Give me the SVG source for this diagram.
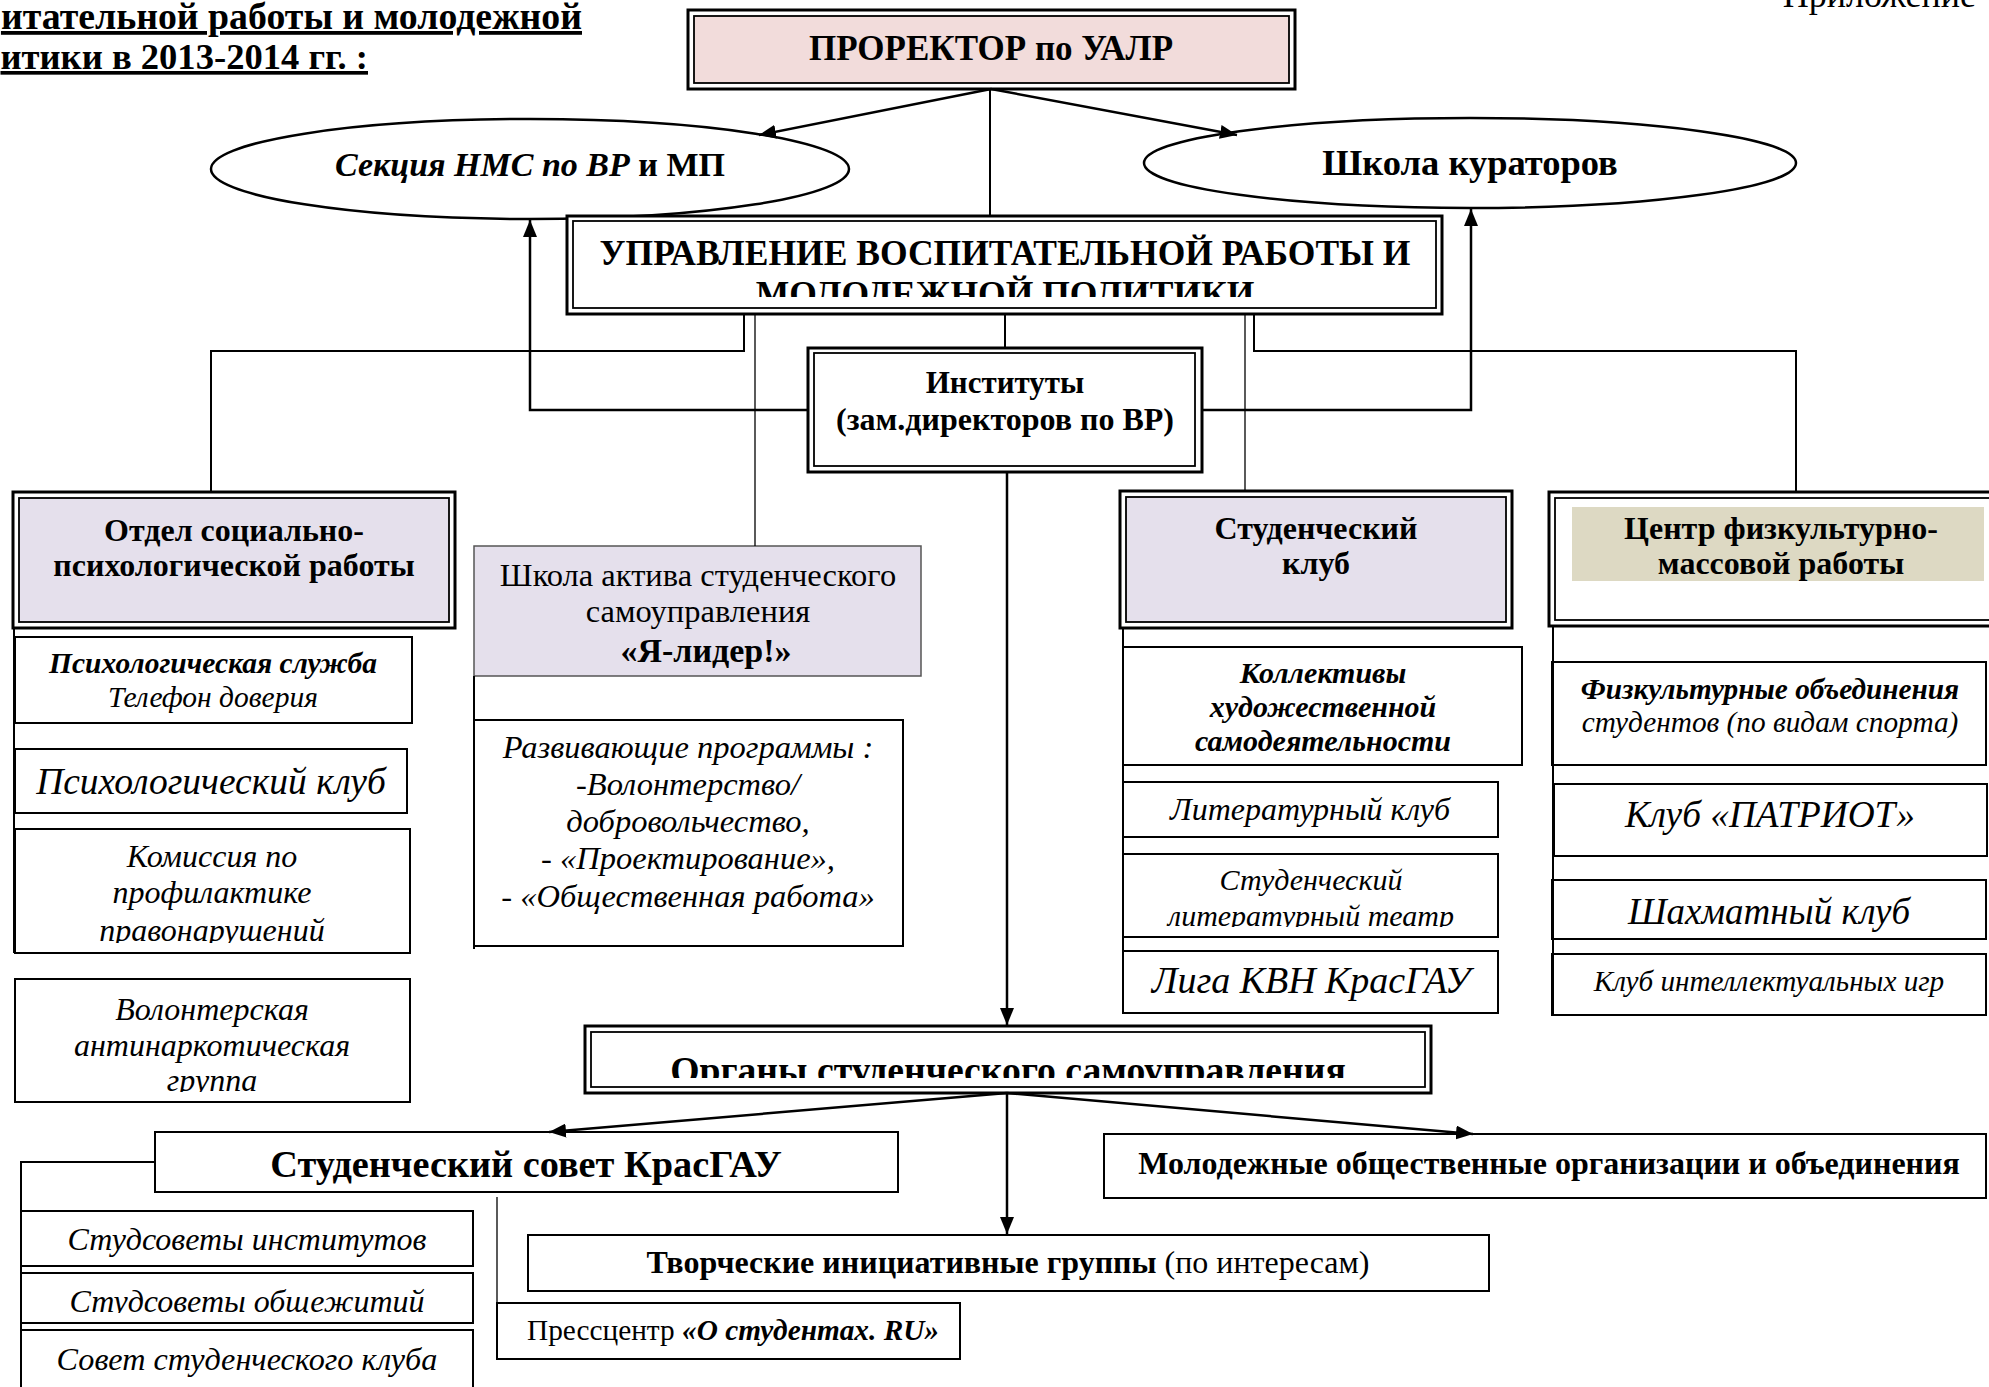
<svg xmlns="http://www.w3.org/2000/svg" width="1989" height="1387" viewBox="0 0 1989 1387">
<style>
text{font-family:"Liberation Serif","Times New Roman",serif;fill:#000}
.c{text-anchor:middle}
.b{font-weight:bold}
.i{font-style:italic}
.n{font-weight:normal;font-style:normal}
.box{fill:#fff;stroke:#000;stroke-width:2}
.out{fill:#fff;stroke:#000;stroke-width:3}
.inn{fill:none;stroke:#000;stroke-width:1.8}
.lav{fill:#e5e0ec}
.ln{fill:none;stroke:#000;stroke-width:2}
.thin{fill:none;stroke:#000;stroke-width:1.3}
.arr{fill:none;stroke:#000;stroke-width:2.5;marker-end:url(#ah)}
.ell{fill:#fff;stroke:#000;stroke-width:2.5}
</style>
<defs>
<marker id="ah" markerUnits="userSpaceOnUse" markerWidth="18" markerHeight="14" refX="17" refY="7" orient="auto"><path d="M0,0 L17,7 L0,14 z" fill="#000"/></marker>
<clipPath id="cUpr"><rect x="573" y="221" width="863" height="76"/></clipPath>
<clipPath id="cKom"><rect x="15" y="829" width="395" height="114"/></clipPath>
<clipPath id="cVol"><rect x="15" y="979" width="395" height="113"/></clipPath>
<clipPath id="cTeatr"><rect x="1123" y="854" width="375" height="73"/></clipPath>
<clipPath id="cOrg"><rect x="591" y="1032" width="834" height="46"/></clipPath>
<clipPath id="cObsh"><rect x="21" y="1273" width="452" height="40"/></clipPath>
</defs>

<g id="title">
<text x="582" y="29" font-size="37.8" class="b" text-anchor="end" text-decoration="underline">итательной работы и молодежной</text>
<text x="368" y="69" font-size="36.6" class="b" text-anchor="end" text-decoration="underline">итики в 2013-2014 гг. :</text>
<text x="1976" y="7" font-size="36" text-anchor="end">Приложение</text>
</g>

<g id="prorektor">
<rect class="out" x="688" y="10" width="607" height="79"/>
<rect x="694" y="16" width="595" height="67" fill="#f2dcdb" stroke="#000" stroke-width="1.8"/>
<text x="991" y="60" font-size="35" class="c b">ПРОРЕКТОР по УАЛР</text>
</g>

<g id="sekciya">
<ellipse class="ell" cx="530" cy="169" rx="319" ry="50"/>
<text x="530" y="176" font-size="34" class="c b"><tspan class="i">Секция НМС по ВР</tspan> и МП</text>
</g>

<g id="shkola-kuratorov">
<ellipse class="ell" cx="1470" cy="163" rx="326" ry="45"/>
<text x="1470" y="175" font-size="36.5" class="c b">Школа кураторов</text>
</g>

<g id="upravlenie">
<rect class="out" x="567" y="216" width="875" height="98"/>
<rect class="inn" x="573" y="221" width="863" height="87"/>
<g clip-path="url(#cUpr)">
<text x="1005" y="265" font-size="35.5" class="c b">УПРАВЛЕНИЕ ВОСПИТАТЕЛЬНОЙ РАБОТЫ И</text>
<text x="1005" y="306" font-size="35.5" class="c b">МОЛОДЕЖНОЙ ПОЛИТИКИ</text>
</g>
</g>

<g id="instituty">
<rect class="out" x="808" y="348" width="394" height="124"/>
<rect class="inn" x="814" y="353" width="381" height="113"/>
<text x="1005" y="393" font-size="31" class="c b">Институты</text>
<text x="1005" y="430" font-size="32" class="c b">(зам.директоров по ВР)</text>
</g>

<g id="otdel">
<rect class="out" x="13" y="492" width="442" height="136"/>
<rect class="inn lav" x="19" y="498" width="430" height="124"/>
<text x="234" y="541" font-size="32" class="c b">Отдел социально-</text>
<text x="234" y="576" font-size="32" class="c b">психологической работы</text>
</g>

<g id="shkola-aktiva">
<rect x="474" y="546" width="447" height="130" fill="#e5e0ec" stroke="#555" stroke-width="1.5"/>
<text x="698" y="586" font-size="32.5" class="c">Школа актива студенческого</text>
<text x="698" y="622" font-size="32.5" class="c">самоуправления</text>
<text x="706" y="662" font-size="34" class="c b">«Я-лидер!»</text>
</g>

<g id="studklub">
<rect class="out" x="1120" y="491" width="392" height="137"/>
<rect class="inn lav" x="1126" y="497" width="380" height="125"/>
<text x="1316" y="539" font-size="32" class="c b">Студенческий</text>
<text x="1316" y="574" font-size="32" class="c b">клуб</text>
</g>

<g id="centr">
<rect class="out" x="1549" y="492" width="460" height="134"/>
<rect class="inn" x="1555" y="498" width="448" height="122"/>
<rect x="1572" y="507" width="412" height="74" fill="#ddd9c3"/>
<text x="1781" y="539" font-size="32" class="c b">Центр физкультурно-</text>
<text x="1781" y="574" font-size="32" class="c b">массовой работы</text>
</g>

<g id="psych-service">
<rect class="box" x="15" y="637" width="397" height="86"/>
<text x="213" y="673" font-size="29.5" class="c b i">Психологическая служба</text>
<text x="213" y="707" font-size="29.5" class="c i">Телефон доверия</text>
</g>

<g id="psych-club">
<rect class="box" x="15" y="749" width="392" height="64"/>
<text x="211" y="794" font-size="37.5" class="c i">Психологический клуб</text>
</g>

<g id="komissiya">
<rect class="box" x="15" y="829" width="395" height="124"/>
<g clip-path="url(#cKom)">
<text x="212" y="867" font-size="32" class="c i">Комиссия по</text>
<text x="212" y="903" font-size="32" class="c i">профилактике</text>
<text x="212" y="941" font-size="32" class="c i">правонарушений</text>
</g>
</g>

<g id="volonter">
<rect class="box" x="15" y="979" width="395" height="123"/>
<g clip-path="url(#cVol)">
<text x="212" y="1020" font-size="32" class="c i">Волонтерская</text>
<text x="212" y="1056" font-size="32" class="c i">антинаркотическая</text>
<text x="212" y="1091" font-size="32" class="c i">группа</text>
</g>
</g>

<g id="razvivayushie">
<rect class="box" x="474" y="720" width="429" height="226"/>
<text x="688" y="758" font-size="32.5" class="c i">Развивающие программы :</text>
<text x="688" y="795" font-size="32.5" class="c i">-Волонтерство/</text>
<text x="688" y="832" font-size="32.5" class="c i">добровольчество,</text>
<text x="688" y="869" font-size="32.5" class="c i">- «Проектирование»,</text>
<text x="688" y="907" font-size="32.5" class="c i">- «Общественная работа»</text>
</g>

<g id="kollektivy">
<rect class="box" x="1123" y="647" width="399" height="118"/>
<text x="1323" y="683" font-size="30" class="c b i">Коллективы</text>
<text x="1323" y="717" font-size="30" class="c b i">художественной</text>
<text x="1323" y="751" font-size="30" class="c b i">самодеятельности</text>
</g>

<g id="lit-klub">
<rect class="box" x="1123" y="782" width="375" height="55"/>
<text x="1310" y="820" font-size="32" class="c i">Литературный клуб</text>
</g>

<g id="lit-teatr">
<rect class="box" x="1123" y="854" width="375" height="83"/>
<g clip-path="url(#cTeatr)">
<text x="1311" y="890" font-size="30" class="c i">Студенческий</text>
<text x="1311" y="926" font-size="30" class="c i">литературный театр</text>
</g>
</g>

<g id="kvn">
<rect class="box" x="1123" y="951" width="375" height="62"/>
<text x="1311" y="993" font-size="38" class="c i">Лига КВН КрасГАУ</text>
</g>

<g id="fizk">
<rect class="box" x="1552" y="662" width="434" height="103"/>
<text x="1770" y="699" font-size="29.3" class="c b i">Физкультурные объединения</text>
<text x="1770" y="732" font-size="29.3" class="c i">студентов (по видам спорта)</text>
</g>

<g id="patriot">
<rect class="box" x="1554" y="784" width="433" height="72"/>
<text x="1770" y="827" font-size="37.3" class="c i">Клуб «ПАТРИОТ»</text>
</g>

<g id="shahmat">
<rect class="box" x="1552" y="880" width="434" height="59"/>
<text x="1769" y="924" font-size="37" class="c i">Шахматный клуб</text>
</g>

<g id="intel">
<rect class="box" x="1552" y="954" width="434" height="61"/>
<text x="1769" y="991" font-size="29.2" class="c i">Клуб интеллектуальных игр</text>
</g>

<g id="organy">
<rect class="out" x="585" y="1026" width="846" height="67"/>
<rect class="inn" x="591" y="1032" width="834" height="55"/>
<g clip-path="url(#cOrg)">
<text x="1008" y="1083" font-size="37.7" class="c b">Органы студенческого самоуправления</text>
</g>
</g>

<g id="studsovet">
<rect class="box" x="155" y="1132" width="743" height="60"/>
<text x="526" y="1177" font-size="38.3" class="c b">Студенческий совет КрасГАУ</text>
</g>

<g id="molodezhnye">
<rect class="box" x="1104" y="1134" width="882" height="64"/>
<text x="1549" y="1174" font-size="32" class="c b">Молодежные общественные организации и объединения</text>
</g>

<g id="tvorcheskie">
<rect class="box" x="528" y="1235" width="961" height="56"/>
<text x="1008" y="1273" font-size="32" class="c b">Творческие инициативные группы<tspan class="n"> (по интересам)</tspan></text>
</g>

<g id="presscentr">
<rect class="box" x="497" y="1303" width="463" height="56"/>
<text x="733" y="1340" font-size="29.3" class="c">Прессцентр <tspan class="b i">«О студентах. RU»</tspan></text>
</g>

<g id="studsovety-inst">
<rect class="box" x="21" y="1211" width="452" height="55"/>
<text x="247" y="1250" font-size="32" class="c i">Студсоветы институтов</text>
</g>

<g id="studsovety-obsh">
<rect class="box" x="21" y="1273" width="452" height="50"/>
<g clip-path="url(#cObsh)">
<text x="247" y="1312" font-size="32" class="c i">Студсоветы общежитий</text>
</g>
</g>

<g id="sovet-klub">
<rect class="box" x="21" y="1330" width="452" height="80"/>
<text x="247" y="1370" font-size="32.2" class="c i">Совет студенческого клуба</text>
</g>

<g id="connectors">
<line class="arr" x1="991" y1="89" x2="759" y2="135"/>
<line class="arr" x1="991" y1="89" x2="1237" y2="135"/>
<line class="ln" x1="990" y1="89" x2="990" y2="216"/>
<line class="ln" x1="1005" y1="314" x2="1005" y2="348"/>
<line class="arr" x1="1007" y1="472" x2="1007" y2="1025"/>
<polyline class="ln" points="744,314 744,351 211,351 211,492"/>
<line class="thin" x1="755" y1="314" x2="755" y2="546"/>
<polyline class="arr" points="808,410 530,410 530,220"/>
<polyline class="arr" points="1202,410 1471,410 1471,209"/>
<polyline class="ln" points="1254,314 1254,351 1796,351 1796,492"/>
<line class="thin" x1="1245" y1="314" x2="1245" y2="491"/>
<line class="ln" x1="14" y1="628" x2="14" y2="953"/>
<line class="ln" x1="1123" y1="628" x2="1123" y2="1013"/>
<line class="ln" x1="1553" y1="626" x2="1553" y2="1015"/>
<line class="ln" x1="474" y1="676" x2="474" y2="949"/>
<line class="arr" x1="1007" y1="1093" x2="549" y2="1132"/>
<line class="arr" x1="1007" y1="1093" x2="1473" y2="1134"/>
<line class="arr" x1="1007" y1="1093" x2="1007" y2="1234"/>
<polyline class="ln" points="155,1162 21,1162 21,1387"/>
<line class="thin" x1="497" y1="1197" x2="497" y2="1303"/>
</g>
</svg>
